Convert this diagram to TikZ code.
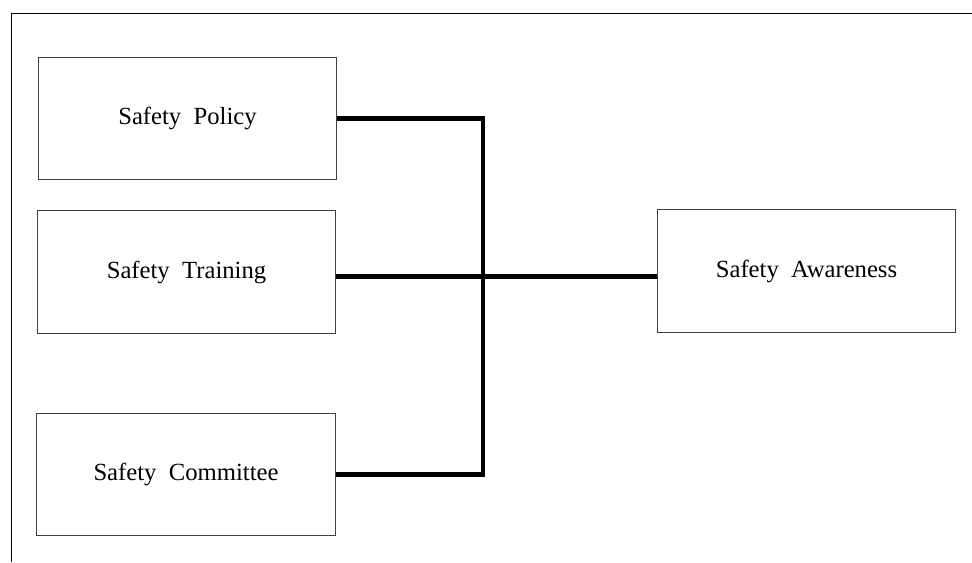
\documentclass[tikz,border=0pt]{standalone}
\usepackage{fontspec}
\setmainfont{Liberation Serif}
\usetikzlibrary{positioning,calc}

\begin{document}
\begin{tikzpicture}[
  x=0.75pt, y=-0.75pt,
  factor/.style={draw=black!75, line width=0.8pt, minimum width=224pt,
    minimum height=92pt, inner sep=0pt, font=\fontsize{18.5}{22}\selectfont},
  link/.style={line width=3.6pt},
  font=\small
]
\useasboundingbox (0,0) rectangle (972,562);
% frame
\draw[line width=1.4pt] (11.5,562) -- (11.5,13.5) -- (972,13.5);

\node[factor] (policy) at (187.5,118.5) {Safety\ \ Policy};
\node[factor] (training) at (186.5,272) {Safety\ \ Training};
\node[factor] (committee) at (186,474.5) {Safety\ \ Committee};
\node[factor] (awareness) at (806.5,271) {Safety\ \ Awareness};

\coordinate (hub) at (483,276.5);
\draw[link] (policy.east) -| (hub) |- (committee.east);
\draw[link] (training.east |- hub) -- (hub);
\draw[line width=3.3pt] (hub) -- (hub -| awareness.west);
\end{tikzpicture}
\end{document}
